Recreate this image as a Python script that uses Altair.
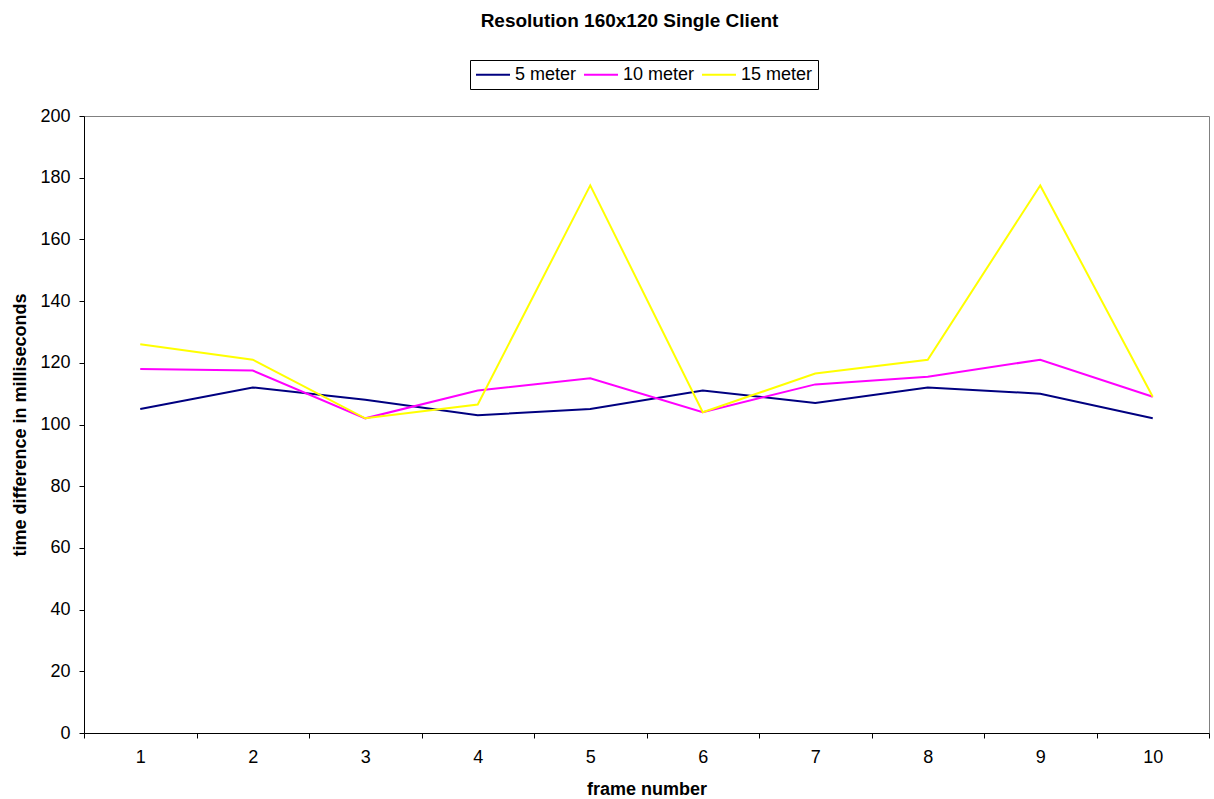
import altair as alt
import pandas as pd

# Frame-to-frame timing measurements at three distances
frames = [1, 2, 3, 4, 5, 6, 7, 8, 9, 10]
meter_5 = [105, 112, 108, 103, 105, 111, 107, 112, 110, 102]
meter_10 = [118, 117.5, 102, 111, 115, 104, 113, 115.5, 121, 109]
meter_15 = [126, 121, 102, 106.5, 177.5, 104, 116.5, 121, 177.5, 109]

series_names = ["5 meter", "10 meter", "15 meter"]
series_colors = ["#000080", "#FF00FF", "#FFFF00"]

rows = []
for name, values in zip(series_names, [meter_5, meter_10, meter_15]):
    for f, v in zip(frames, values):
        rows.append({"frame": f, "series": name, "ms": v})
df = pd.DataFrame(rows)

FONT = "Liberation Sans"

chart = (
    alt.Chart(df)
    .mark_line(strokeWidth=2)
    .encode(
        x=alt.X(
            "frame:O",
            title="frame number",
            scale=alt.Scale(paddingInner=0, paddingOuter=0),
            axis=alt.Axis(
                tickBand="extent",
                labelAngle=0,
                labelPadding=10,
                titlePadding=14,
            ),
        ),
        y=alt.Y(
            "ms:Q",
            title="time difference in milliseconds",
            scale=alt.Scale(domain=[0, 200], nice=False),
            axis=alt.Axis(
                values=list(range(0, 201, 20)),
                grid=False,
                labelPadding=9,
                titlePadding=10,
            ),
        ),
        color=alt.Color(
            "series:N",
            scale=alt.Scale(domain=series_names, range=series_colors),
            legend=alt.Legend(
                title=None,
                orient="none",
                legendX=386,
                legendY=-56,
                direction="horizontal",
                # long horizontal line key, kept short in the layout height
                symbolType="M-1,0H3",
                symbolSize=289,
                symbolStrokeWidth=2,
                strokeColor="black",
                fillColor="white",
                padding=5,
                columnPadding=3,
                labelFontSize=18,
                labelFont=FONT,
                labelColor="black",
                labelOffset=21,
            ),
        ),
        detail="series:N",
    )
    .properties(
        width=1125,
        height=617,
        title=alt.TitleParams(
            "Resolution 160x120 Single Client",
            font=FONT,
            fontSize=19,
            fontWeight="bold",
            color="black",
            anchor="middle",
            dx=-17,
            offset=29,
        ),
        autosize=alt.AutoSizeParams(type="none"),
        padding={"left": 84, "top": 116, "right": 5, "bottom": 66},
    )
    .configure_view(stroke="#808080", strokeWidth=1)
    .configure_axis(
        labelFont=FONT,
        labelFontSize=18,
        labelColor="black",
        titleFont=FONT,
        titleFontSize=18,
        titleFontWeight="bold",
        titleColor="black",
        domainColor="black",
        tickColor="black",
        tickSize=5,
    )
)

chart.save("out.html", embed_options={"renderer": "svg", "actions": False})
